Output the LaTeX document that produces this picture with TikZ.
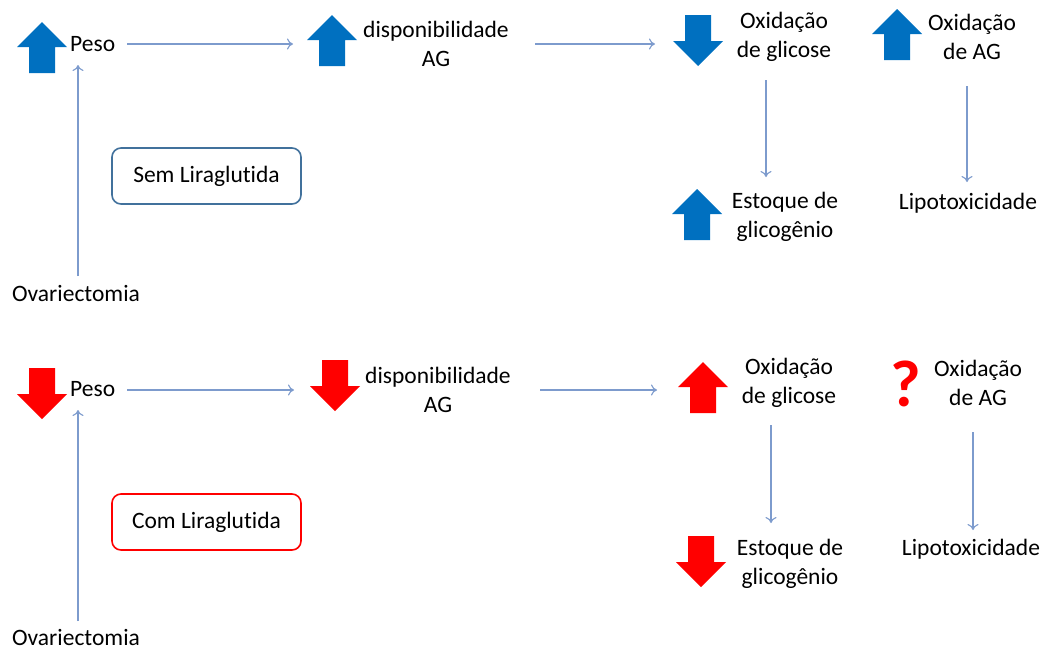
\documentclass[tikz,border=0pt]{standalone}
\usepackage{fontspec}
\setmainfont[Ligatures=NoCommon]{Carlito}
\usetikzlibrary{arrows.meta}
\definecolor{blk}{RGB}{0,112,192}
\definecolor{redA}{RGB}{255,0,0}
\definecolor{conn}{RGB}{125,155,205}
\definecolor{boxblue}{RGB}{65,113,156}
\tikzset{
  uparr/.pic={\path[pic actions] (0,0) -- (25,25) -- (13,25) -- (13,51) -- (-13,51) -- (-13,25) -- (-25,25) -- cycle;},
  downarr/.pic={\path[pic actions] (-13,0) -- (13,0) -- (13,26) -- (25,26) -- (0,51) -- (-25,26) -- (-13,26) -- cycle;},
  lbl/.style={inner sep=0pt, align=center, font=\fontsize{23.5}{29.5}\selectfont, text=black},
  conn/.style={draw=conn, line width=1.1pt, -{To[length=6pt,width=11pt]}},
  sembox/.style={draw=boxblue, line width=1.6pt, rounded corners=9pt, minimum width=189pt, minimum height=56pt, inner sep=0pt, font=\fontsize{23.5}{27}\selectfont},
  blue arrow/.style={fill=blk},
  red arrow/.style={fill=redA}
}
\begin{document}
\begin{tikzpicture}[x=1pt,y=-1pt]
\useasboundingbox (0,0) rectangle (1047,649);
\fill[white] (0,0) rectangle (1047,649);

% ===== Top: Sem Liraglutida =====
\pic[blue arrow] at (42,22) {uparr};
\node[lbl, anchor=west] (peso1) at (70,44) {Peso};
\pic[blue arrow] at (332,15) {uparr};
\node[lbl] (disp1) at (436,44) {disponibilidade\\AG};
\pic[blue arrow] at (698,15) {downarr};
\node[lbl] (oxg1) at (784,37) {Oxidação\\de glicose};
\pic[blue arrow] at (897,9) {uparr};
\node[lbl] (oxa1) at (972,37) {Oxidação\\de AG};
\pic[blue arrow] at (697,189) {uparr};
\node[lbl] (est1) at (785,217) {Estoque de\\glicogênio};
\node[lbl] (lip1) at (968,203) {Lipotoxicidade};
\node[sembox] (sem) at (206.5,176) {Sem Liraglutida};
\node[lbl] (ova1) at (76,293) {Ovariectomia};

\coordinate (p1a) at (127,44);
\coordinate (p1b) at (293,44);
\coordinate (d1a) at (535,44);
\coordinate (d1b) at (655,44);
\coordinate (g1a) at (766,80);
\coordinate (g1b) at (766,177);
\coordinate (a1a) at (967,86);
\coordinate (a1b) at (967,182);
\coordinate (o1a) at (78,276);
\coordinate (o1b) at (78,65);
\draw[conn] (p1a) -- (p1b);
\draw[conn] (d1a) -- (d1b);
\draw[conn] (g1a) -- (g1b);
\draw[conn] (a1a) -- (a1b);
\draw[conn] (o1a) -- (o1b);

% ===== Bottom: Com Liraglutida =====
\pic[red arrow] at (42,368) {downarr};
\node[lbl, anchor=west] (peso2) at (70,389) {Peso};
\pic[red arrow] at (335,360) {downarr};
\node[lbl] (disp2) at (438,390) {disponibilidade\\AG};
\pic[red arrow] at (703,362) {uparr};
\node[lbl] (oxg2) at (789,383) {Oxidação\\de glicose};
\node[inner sep=0pt, text=redA, font=\fontsize{66}{66}\selectfont\bfseries] (q) at (906,384) {?};
\node[lbl] (oxa2) at (978,383) {Oxidação\\de AG};
\pic[red arrow] at (701,536) {downarr};
\node[lbl] (est2) at (790,564) {Estoque de\\glicogênio};
\node[lbl] (lip2) at (971,549) {Lipotoxicidade};
\node[sembox, draw=redA] (com) at (206.5,522) {Com Liraglutida};
\node[lbl] (ova2) at (76,637) {Ovariectomia};

\coordinate (p2a) at (127,390);
\coordinate (p2b) at (294,390);
\coordinate (d2a) at (540,390);
\coordinate (d2b) at (657,390);
\coordinate (g2a) at (771,425);
\coordinate (g2b) at (771,523);
\coordinate (a2a) at (973,432);
\coordinate (a2b) at (973,530);
\coordinate (o2a) at (78,621);
\coordinate (o2b) at (78,410);
\draw[conn] (p2a) -- (p2b);
\draw[conn] (d2a) -- (d2b);
\draw[conn] (g2a) -- (g2b);
\draw[conn] (a2a) -- (a2b);
\draw[conn] (o2a) -- (o2b);
\end{tikzpicture}
\end{document}
